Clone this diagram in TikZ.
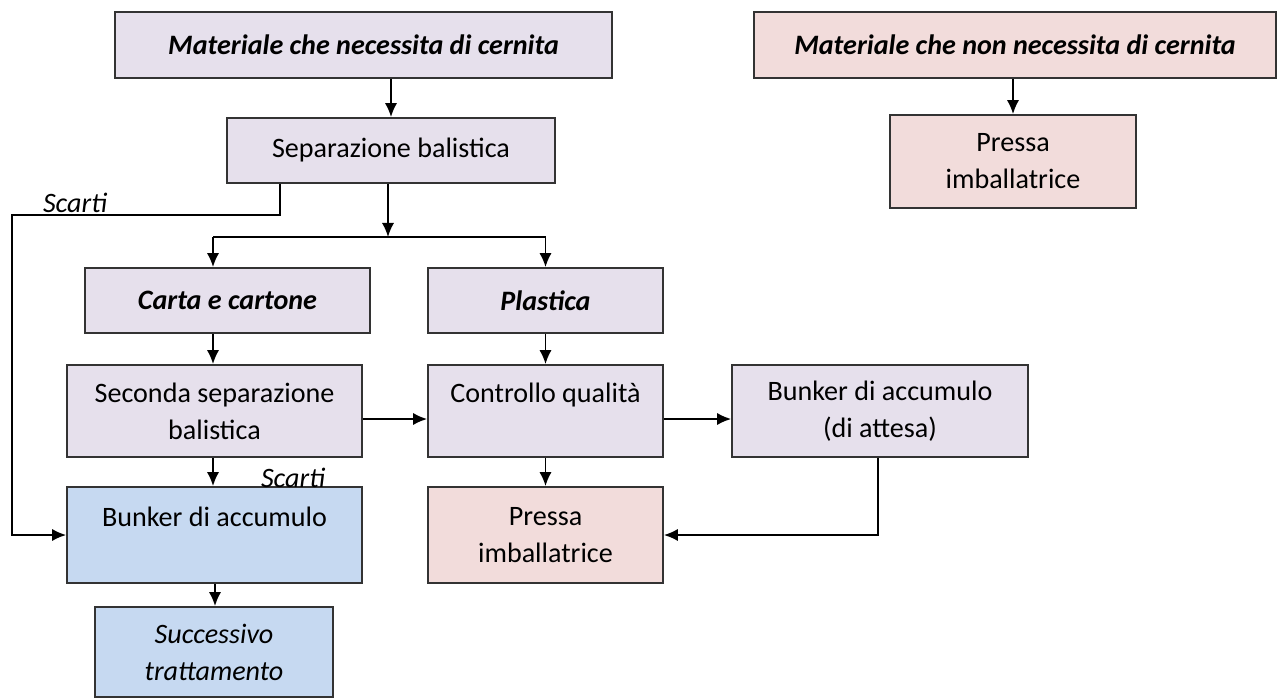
\documentclass[tikz,border=0pt]{standalone}
\usepackage{fontspec}
\setmainfont{Carlito}
\usepackage{tikz}
\usetikzlibrary{arrows.meta,calc}
\definecolor{lilla}{HTML}{E6E0EC}
\definecolor{rosa}{HTML}{F2DCDB}
\definecolor{azzurro}{HTML}{C6D9F1}
\tikzset{box/.style={draw=black!80, rectangle, line width=1pt, fill=lilla, align=center, inner sep=0pt, font=\fontsize{16}{21}\selectfont}}
\tikzset{pressa/.style={box, fill=rosa}}
\tikzset{bunker/.style={box, fill=azzurro}}
\tikzset{titolo/.style={font=\fontsize{16}{21}\selectfont\bfseries\itshape}}
\tikzset{line/.style={draw, line width=1.1pt, -{Latex[length=8pt,width=7pt]}}}
\tikzset{scartilbl/.style={font=\fontsize{16}{21}\selectfont\itshape}}

\begin{document}
\begin{tikzpicture}[x=0.02cm, y=-0.02cm]
\useasboundingbox (0,0) rectangle (1279,700);

\node [box, titolo, minimum width=9.94cm, minimum height=1.32cm] (mat1) at (363.5,45) {Materiale che necessita di cernita};
\node [pressa, titolo, minimum width=10.44cm, minimum height=1.32cm] (mat2) at (1015,45) {Materiale che non necessita di cernita};
\node [box, minimum width=6.56cm, minimum height=1.30cm] (sep) at (391,150.5) {Separazione balistica};
\node [pressa, minimum width=4.92cm, minimum height=1.86cm] (pressa2) at (1013,161.5) {Pressa\\imballatrice};

\node [box, titolo, minimum width=5.70cm, minimum height=1.30cm] (carta) at (227.5,300.5) {Carta e cartone};
\node [box, titolo, minimum width=4.70cm, minimum height=1.30cm] (plastica) at (545.5,300.5) {Plastica};

\node [box, minimum width=5.90cm, minimum height=1.84cm] (seconda) at (214.5,411) {Seconda separazione\\balistica};
\node [box, minimum width=4.70cm, minimum height=1.84cm] (controllo) at (545.5,411) {Controllo qualità\\~};
\node [box, minimum width=5.92cm, minimum height=1.84cm] (bunker2) at (880,411) {Bunker di accumulo\\(di attesa)};

\node [bunker, minimum width=5.90cm, minimum height=1.92cm] (bunker1) at (214.5,535) {Bunker di accumulo\\~};
\node [pressa, minimum width=4.70cm, minimum height=1.92cm] (pressa1) at (545.5,535) {Pressa\\imballatrice};
\node [bunker, font=\fontsize{16}{21}\selectfont\itshape, minimum width=4.76cm, minimum height=1.80cm] (succ) at (214,652) {Successivo\\trattamento};

\node [scartilbl] (scarti1) at (75,203) {Scarti};
\node [scartilbl] (scarti2) at (293,478) {Scarti};

\coordinate (split) at (388,237);
\coordinate (colA) at (213,0);
\coordinate (scarti) at (280,215);
\coordinate (rail) at (12,0);

%CERNITA
\path [line] (sep.north |- mat1.south) -- (sep.north);
\path [line] (pressa2.north |- mat2.south) -- (pressa2.north);

%SEPARAZIONE
\path [line] (sep.south -| split) -- (split);
\draw [line width=1.1pt] (split) -- (split -| colA);
\path [line] (split) -| (plastica.north);
\path [line] (split -| colA) -- (carta.north -| colA);

%SCARTI
\path [line] (sep.south -| scarti) -- (scarti) -- (scarti -| rail) |- (bunker1.west);

%LINEA CARTA
\path [line] (carta.south -| colA) -- (seconda.north -| colA);
\path [line] (seconda.south -| colA) -- (bunker1.north -| colA);
\path [line] ($(bunker1.south -| colA)+(2,0)$) -- ($(succ.north -| colA)+(2,0)$);

%LINEA PLASTICA
\path [line] (plastica) -- (controllo);
\path [line] ($(seconda.east)+(0,8)$) -- ($(controllo.west)+(0,8)$);
\path [line] ($(controllo.east)+(0,8)$) -- ($(bunker2.west)+(0,8)$);
\path [line] (controllo) -- (pressa1);
\path [line] ($(bunker2.south)+(-2,0)$) |- (pressa1.east);

\end{tikzpicture}
\end{document}
